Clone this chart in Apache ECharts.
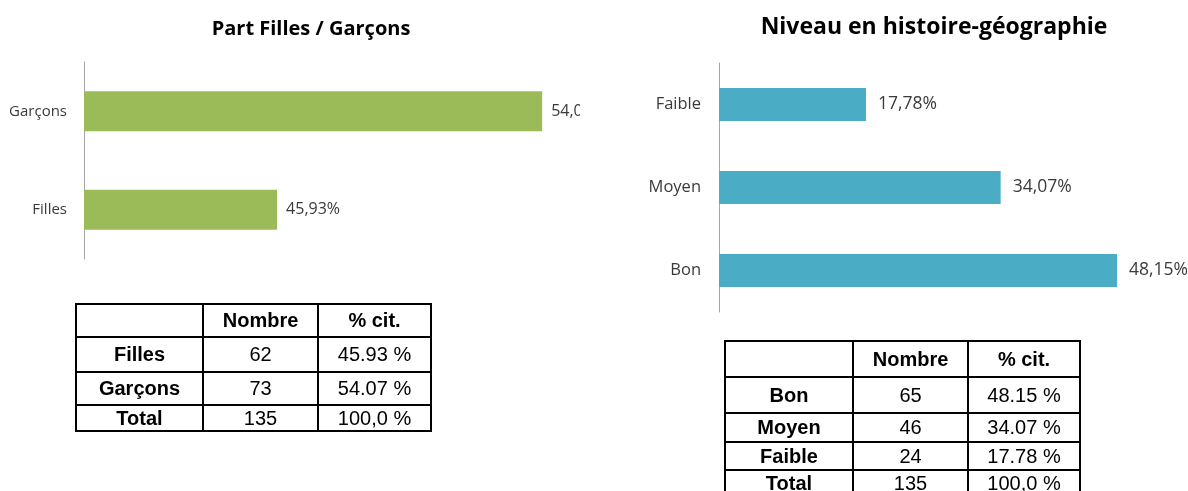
<!DOCTYPE html>
<html>
<head>
<meta charset="utf-8">
<script src="https://cdn.jsdelivr.net/npm/echarts@6/dist/echarts.min.js"></script>
<style>
  html, body { margin: 0; padding: 0; background: #fff; overflow: hidden; }
  .frame { position: absolute; top: 0; height: 491px; overflow: hidden; }
  #leftFrame  { left: 0;     width: 580px; }
  #rightFrame { left: 580px; width: 608px; }
  #left  { width: 660px; height: 491px; }
  #right { width: 680px; height: 491px; }
</style>
</head>
<body>
<div class="frame" id="leftFrame"><div id="left"></div></div>
<div class="frame" id="rightFrame"><div id="right"></div></div>
<script>
// Répartition filles / garçons
const sexTitle = 'Part Filles / Garçons';
const sexCategories = ['Filles', 'Garçons'];
const sexCounts = [62, 73];
const sexPercents = [45.93, 54.07];

// Niveau en histoire-géographie
const levelTitle = 'Niveau en histoire-géographie';
const levelCategories = ['Bon', 'Moyen', 'Faible'];
const levelCounts = [65, 46, 24];
const levelPercents = [48.15, 34.07, 17.78];

// Tableaux
const tableHeaders = ['', 'Nombre', '% cit.'];
const totalLabel = 'Total';
const totalPercentText = '100,0 %';

const LABEL_FONT = '"Open Sans", "DejaVu Sans", sans-serif';
const TABLE_FONT = '"Liberation Sans", Arial, sans-serif';

function frPercent(v) { return v.toFixed(2).replace('.', ',') + '%'; }

function buildRows(cats, counts, percents) {
  const rows = [tableHeaders.map(h => ({ text: h, bold: true }))];
  cats.forEach((c, i) => rows.push([
    { text: c, bold: true },
    { text: String(counts[i]) },
    { text: percents[i].toFixed(2) + ' %' }
  ]));
  rows.push([
    { text: totalLabel, bold: true },
    { text: String(counts.reduce((a, b) => a + b, 0)) },
    { text: totalPercentText }
  ]);
  return rows;
}

// Grille d'un tableau : lignes + textes centrés dans chaque cellule
function tableGraphics(xs, ys, rows, offsetX) {
  const els = [];
  const lineStyle = { stroke: '#000', lineWidth: 2 };
  xs.forEach(x => els.push({
    type: 'line', silent: true,
    shape: { x1: x - offsetX, y1: ys[0] - 1, x2: x - offsetX, y2: ys[ys.length - 1] + 1 },
    style: lineStyle
  }));
  ys.forEach(y => els.push({
    type: 'line', silent: true,
    shape: { x1: xs[0] - offsetX - 1, y1: y, x2: xs[xs.length - 1] - offsetX + 1, y2: y },
    style: lineStyle
  }));
  rows.forEach((row, r) => row.forEach((cell, c) => {
    els.push({
      type: 'text', silent: true,
      x: (xs[c] + xs[c + 1]) / 2 - offsetX,
      y: (ys[r] + ys[r + 1]) / 2 + 1,
      style: {
        text: cell.text,
        fill: '#000',
        font: (cell.bold ? 'bold ' : '') + '20px ' + TABLE_FONT,
        align: 'center',
        verticalAlign: 'middle'
      }
    });
  }));
  return els;
}

function barOption(cfg) {
  return {
    animation: false,
    title: {
      text: cfg.title,
      left: cfg.titleX, top: cfg.titleTop,
      textAlign: 'center',
      textStyle: { fontFamily: LABEL_FONT, fontWeight: 'bold', fontSize: cfg.titleSize, color: '#000' }
    },
    grid: { left: cfg.gridLeft, top: cfg.gridTop, width: cfg.gridWidth, height: cfg.gridHeight },
    xAxis: {
      type: 'value', min: cfg.min, max: cfg.max,
      axisLine: { show: false }, axisTick: { show: false },
      axisLabel: { show: false }, splitLine: { show: false }
    },
    yAxis: {
      type: 'category',
      data: cfg.categories,
      axisLine: { show: true, lineStyle: { color: '#a6a6a6', width: 1 } },
      axisTick: { show: false },
      axisLabel: { color: '#3a3a3a', fontSize: cfg.tickSize, fontFamily: LABEL_FONT, margin: cfg.tickMargin }
    },
    series: [{
      type: 'bar',
      data: cfg.values,
      barWidth: cfg.barWidth,
      itemStyle: { color: cfg.color },
      label: {
        show: true, position: 'right', distance: cfg.labelDistance,
        color: '#3a3a3a', fontSize: cfg.labelSize, fontFamily: LABEL_FONT,
        formatter: p => frPercent(p.value)
      }
    }],
    graphic: { elements: cfg.table }
  };
}

const leftChart = echarts.init(document.getElementById('left'), null, { renderer: 'canvas' });
leftChart.setOption(barOption({
  title: sexTitle, titleX: 306, titleTop: 14, titleSize: 20,
  gridLeft: 84, gridTop: 62, gridWidth: 521, gridHeight: 197,
  min: 40, max: 56,
  categories: sexCategories, values: sexPercents,
  barWidth: 40, color: '#9bbb59',
  tickSize: 15, tickMargin: 17, labelSize: 16, labelDistance: 9,
  table: tableGraphics([76, 203, 318, 431], [304, 337, 372, 405, 431],
                       buildRows(sexCategories, sexCounts, sexPercents), 0)
}));

const rightChart = echarts.init(document.getElementById('right'), null, { renderer: 'canvas' });
rightChart.setOption(barOption({
  title: levelTitle, titleX: 349, titleTop: 11, titleSize: 23,
  gridLeft: 139, gridTop: 63, gridWidth: 496, gridHeight: 249,
  min: 0, max: 60,
  categories: levelCategories, values: levelPercents,
  barWidth: 33, color: '#4bacc6',
  tickSize: 16.5, tickMargin: 18, labelSize: 17.5, labelDistance: 12,
  table: tableGraphics([725, 853, 968, 1080], [341, 377, 413, 442, 470, 497],
                       buildRows(levelCategories, levelCounts, levelPercents), 580)
}));
</script>
</body>
</html>
